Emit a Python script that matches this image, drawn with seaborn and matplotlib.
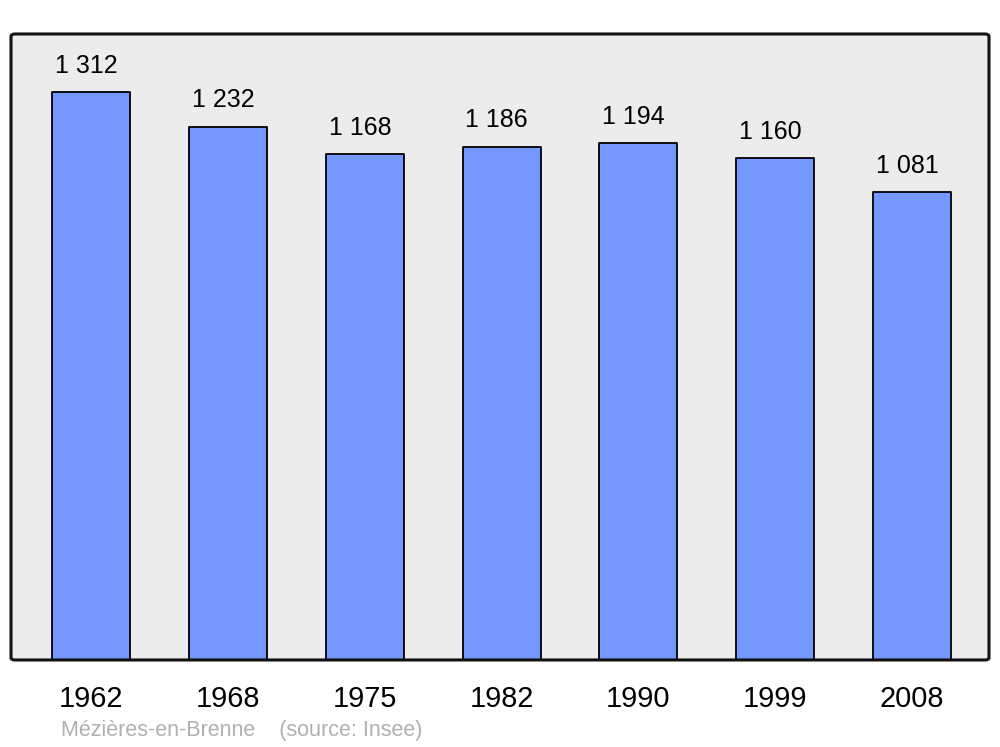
import matplotlib
matplotlib.use("Agg")
import matplotlib.pyplot as plt
from matplotlib.patches import FancyBboxPatch
import pandas as pd
import seaborn as sns

years = ["1962", "1968", "1975", "1982", "1990", "1999", "2008"]
population = [1312, 1232, 1168, 1186, 1194, 1160, 1081]
commune = "Mézières-en-Brenne"
source = "(source: Insee)"

sns.set_style("white")
plt.rcParams["font.family"] = ["Liberation Sans", "DejaVu Sans"]

df = pd.DataFrame({"year": years, "pop": population})

fig = plt.figure(figsize=(10, 7.47), dpi=100)
ax = fig.add_axes([0.011, 0.1165, 0.978, 0.838])
ax.patch.set_visible(False)

sns.barplot(data=df, x="year", y="pop", color="#7498ff", saturation=1,
            width=0.57, edgecolor="black", linewidth=1.3, ax=ax, zorder=2)
for bar in ax.patches:
    bar.set_joinstyle("round")

# value labels
for i, v in enumerate(population):
    ax.text(i - 0.035, v + 33, f"{v:,}".replace(",", " "),
            ha="center", va="bottom", fontsize=18, color="black")

ax.set_xlim(-0.584, 6.562)
ax.set_ylim(0, 1446)
ax.set_xlabel("")
ax.set_ylabel("")
ax.set_yticks([])
ax.tick_params(axis="x", length=0, labelsize=20.8, pad=18, colors="black")
for s in ax.spines.values():
    s.set_visible(False)

# rounded background frame
bg = FancyBboxPatch((0, 0), 1, 1, boxstyle="round,pad=0,rounding_size=0.004",
                    transform=ax.transAxes, facecolor="#ececec",
                    edgecolor="none", zorder=0, clip_on=False)
ax.add_patch(bg)
frame = FancyBboxPatch((0, 0), 1, 1, boxstyle="round,pad=0,rounding_size=0.004",
                       transform=ax.transAxes, facecolor="none",
                       edgecolor="#111111", linewidth=2.2, zorder=5, clip_on=False)
ax.add_patch(frame)

fig.text(0.061, 0.008, commune + "    " + source, fontsize=15.5,
         color="#b0b0b0", ha="left", va="bottom")

fig.savefig("out.png", dpi=100, facecolor="white")
